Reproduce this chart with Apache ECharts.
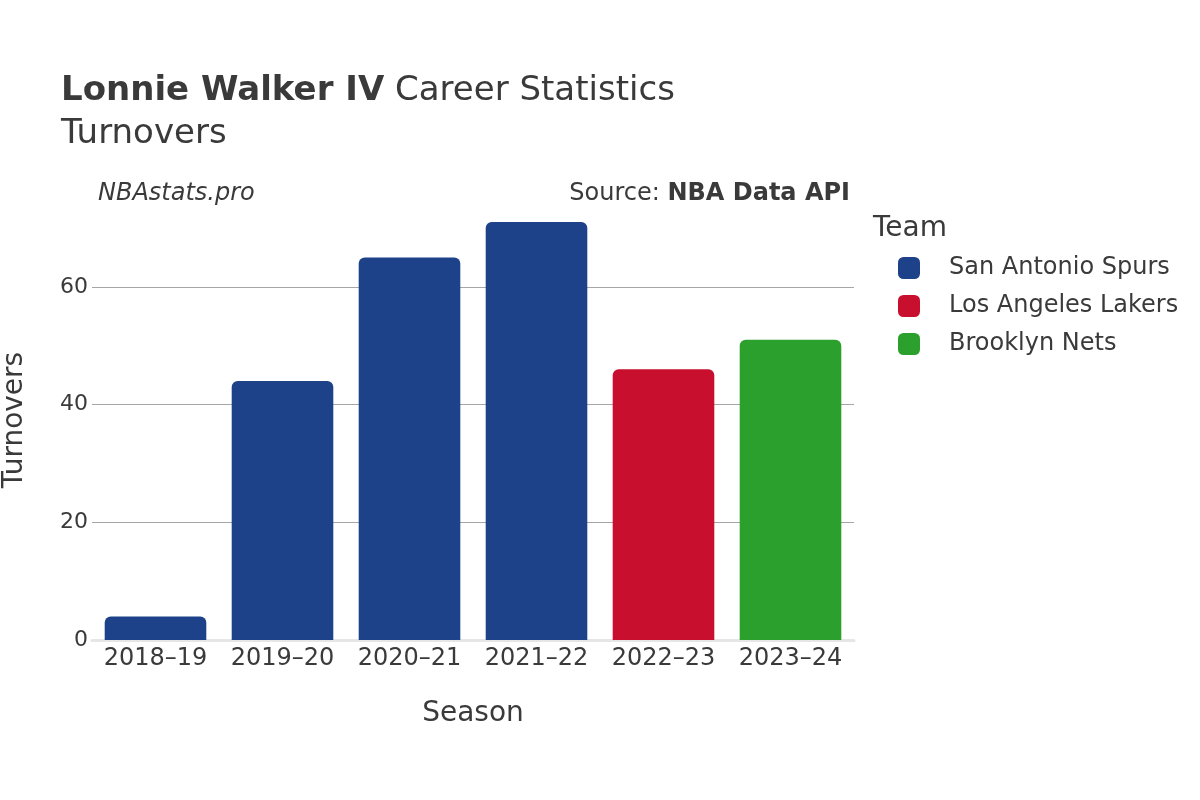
<!DOCTYPE html>
<html>
<head>
<meta charset="utf-8">
<script src="https://cdn.jsdelivr.net/npm/echarts@6/dist/echarts.min.js"></script>
<style>
    html, body { margin: 0; padding: 0; background: #fff; }
    #chart { width: 1200px; height: 800px; }
</style>
</head>
<body>
<div id="chart"></div>
<script>
    var seasons = ['2018–19', '2019–20', '2020–21', '2021–22', '2022–23', '2023–24'];
    var teams = ['San Antonio Spurs', 'Los Angeles Lakers', 'Brooklyn Nets'];
    var teamColors = ['#1d428a', '#c8102e', '#2ca02c'];
    // one value per season, null where the team did not play
    var spurs = [4, 44, 65, 71, null, null];
    var lakers = [null, null, null, null, 46, null];
    var nets = [null, null, null, null, null, 51];
    var yTicks = [0, 20, 40, 60];

    var font = 'DejaVu Sans';
    var textColor = '#3a3a3a';
    var chart = echarts.init(document.getElementById('chart'));

    function teamSeries(i, values) {
        return {
            name: teams[i],
            type: 'bar',
            stack: 'season',
            data: values,
            barWidth: '80%',
            itemStyle: { color: teamColors[i], borderRadius: [6, 6, 0, 0] }
        };
    }

    var option = {
        animation: false,
        backgroundColor: '#fff',
        textStyle: { fontFamily: font },
        graphic: [
            {
                type: 'text', left: 61, top: 74,
                style: {
                    text: '{b|Lonnie Walker IV} Career Statistics',
                    fontFamily: font, fontSize: 34, fill: textColor,
                    rich: { b: { fontFamily: font, fontSize: 34, fontWeight: 'bold', fill: textColor } }
                }
            },
            { type: 'text', left: 61, top: 117, style: { text: 'Turnovers', fontFamily: font, fontSize: 34, fill: textColor } },
            { type: 'text', left: 98, top: 182, style: { text: 'NBAstats.pro', fontFamily: font, fontSize: 24, fontStyle: 'italic', fill: textColor } },
            {
                type: 'text', right: 350, top: 182,
                style: {
                    text: 'Source: {b|NBA Data API}',
                    fontFamily: font, fontSize: 24, fill: textColor,
                    rich: { b: { fontFamily: font, fontSize: 24, fontWeight: 'bold', fill: textColor } }
                }
            },
            { type: 'text', left: 873, top: 215, style: { text: 'Team', fontFamily: font, fontSize: 28, fill: textColor } },
            {
                type: 'text', x: 15, y: 420, rotation: Math.PI / 2,
                style: { text: 'Turnovers', fontFamily: font, fontSize: 28, fill: textColor, align: 'center', verticalAlign: 'middle' }
            }
        ],
        legend: {
            orient: 'vertical',
            left: 893,
            top: 251,
            itemWidth: 22,
            itemHeight: 22,
            itemGap: 14,
            icon: 'roundRect',
            data: teams,
            textStyle: { fontFamily: font, fontSize: 24, color: textColor, padding: [0, 0, 0, 24] }
        },
        grid: { left: 92, right: 346, top: 215, bottom: 160, containLabel: false },
        xAxis: {
            type: 'category',
            data: seasons,
            name: 'Season',
            nameLocation: 'middle',
            nameGap: 60,
            nameTextStyle: { fontFamily: font, fontSize: 28, color: textColor },
            axisTick: { show: false },
            axisLine: { show: true, lineStyle: { color: '#e6e6e6', width: 3 } },
            axisLabel: { fontFamily: font, fontSize: 24, color: textColor, margin: 7, interval: 0 }
        },
        yAxis: {
            type: 'value',
            min: yTicks[0],
            max: 72.2,
            interval: yTicks[1] - yTicks[0],
            axisLine: { show: false },
            axisTick: { show: false },
            axisLabel: { fontFamily: font, fontSize: 22, color: textColor, margin: 4, showMaxLabel: false },
            splitLine: { show: true, showMinLine: false, showMaxLine: false, lineStyle: { color: '#a6a6a6', width: 1 } }
        },
        series: [
            teamSeries(0, spurs),
            teamSeries(1, lakers),
            teamSeries(2, nets)
        ]
    };
    chart.setOption(option);
</script>
</body>
</html>
